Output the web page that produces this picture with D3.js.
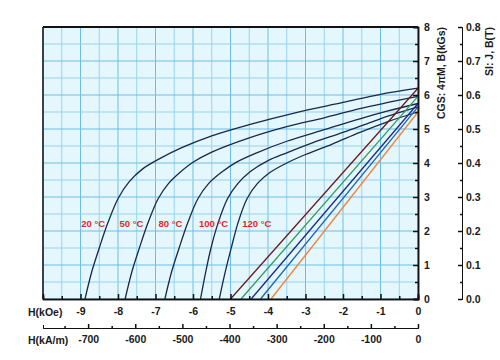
<!DOCTYPE html>
<html lang="en">
<head>
  <meta charset="UTF-8"/>
  <title>Demagnetization curves</title>
  <script src="https://d3js.org/d3.v7.min.js"></script>
  <style>
    body { margin: 0; background: #fff; }
    text { font-family: "Liberation Sans", Arial, sans-serif; }
  </style>
</head>
<body>
<script>

  // temperatures and curve labels
  var temps = ["20 °C", "50 °C", "80 °C", "100 °C", "120 °C"];
  var labelH = [-8.66, -7.64, -6.6, -5.45, -4.3];

  // intrinsic J curves [H (kOe), J (kGs)]
  var j20  = [[-8.88,0],[-8.7,0.8],[-8.5,1.5],[-8.27,2.24],[-8.0,2.95],[-7.7,3.45],[-7.35,3.82],[-6.9,4.12],[-6.3,4.45],[-5.5,4.8],[-4.5,5.13],[-3.3,5.47],[-2.0,5.78],[-1.0,6.02],[0,6.2]];
  var j50  = [[-7.81,0],[-7.63,0.8],[-7.43,1.5],[-7.2,2.24],[-6.93,2.95],[-6.65,3.4],[-6.35,3.72],[-6.0,4.02],[-5.5,4.32],[-4.5,4.74],[-3.5,5.07],[-2.5,5.33],[-1.55,5.6],[-0.8,5.78],[0,5.96]];
  var j80  = [[-6.75,0],[-6.57,0.8],[-6.37,1.5],[-6.14,2.24],[-5.87,2.95],[-5.58,3.4],[-5.25,3.72],[-4.85,4.02],[-4.3,4.3],[-3.5,4.64],[-2.5,4.98],[-1.55,5.3],[-0.8,5.53],[0,5.75]];
  var j100 = [[-5.8,0],[-5.66,0.8],[-5.52,1.5],[-5.33,2.24],[-5.08,2.95],[-4.8,3.4],[-4.47,3.75],[-4.0,4.07],[-3.5,4.3],[-2.8,4.6],[-2.0,4.9],[-1.2,5.22],[-0.6,5.45],[0,5.65]];
  var j120 = [[-5.3,0],[-5.14,0.8],[-4.98,1.5],[-4.8,2.24],[-4.56,2.95],[-4.28,3.4],[-3.95,3.72],[-3.5,4.0],[-3.0,4.25],[-2.3,4.55],[-1.55,4.9],[-0.8,5.22],[0,5.5]];
  var jCurves = [j20, j50, j80, j100, j120];

  // normal B lines: coercivity Hcb (kOe) and remanence Br (kGs)
  var hcb = [-5.0, -4.72, -4.45, -4.2, -3.92];
  var br  = [6.2, 5.96, 5.75, 5.65, 5.5];
  var bColors = ["#6a1c1c", "#3a9a5c", "#1a2c80", "#1f62b4", "#f0843a"];

  // tick labels
  var kOeTicks = [-9, -8, -7, -6, -5, -4, -3, -2, -1, 0];
  var kAmTicks = [-700, -600, -500, -400, -300, -200, -100, 0];
  var cgsTicks = [0, 1, 2, 3, 4, 5, 6, 7, 8];
  var siTicks  = [0, 0.1, 0.2, 0.3, 0.4, 0.5, 0.6, 0.7, 0.8];

  var w = 500, h = 360;
  var pl = 43, pr = 418, pt = 27, pb = 299;
  var kAperkOe = 79.577;

  var svg = d3.select("body").append("svg")
      .attr("width", w)
      .attr("height", h);

  var x = d3.scaleLinear().domain([-10, 0]).range([pl, pr]);
  var x2 = d3.scaleLinear().domain([-10 * kAperkOe, 0]).range([pl, pr]);
  var y = d3.scaleLinear().domain([0, 8]).range([pb, pt]);
  var ySI = d3.scaleLinear().domain([0, 0.8]).range([pb, pt]);

  // background
  svg.append("rect")
     .attr("x", pl).attr("y", pt)
     .attr("width", pr - pl).attr("height", pb - pt)
     .attr("fill", "#e4f7fc");

  // grid
  var grid = svg.append("g");
  d3.range(-10, 0.01, 0.5).forEach(function(v) {
    grid.append("line")
        .attr("x1", x(v)).attr("x2", x(v))
        .attr("y1", pt).attr("y2", pb)
        .attr("stroke", Number.isInteger(v) ? "#6cbde8" : "#98d3f0")
        .attr("stroke-width", 1);
  });
  d3.range(0, 8.01, 0.5).forEach(function(v) {
    grid.append("line")
        .attr("x1", pl).attr("x2", pr)
        .attr("y1", y(v)).attr("y2", y(v))
        .attr("stroke", Number.isInteger(v) ? "#6cbde8" : "#98d3f0")
        .attr("stroke-width", 1);
  });

  // curves
  var line = d3.line()
      .x(function(d) { return x(d[0]); })
      .y(function(d) { return y(d[1]); })
      .curve(d3.curveCatmullRom.alpha(0.5));

  svg.selectAll(".jcurve")
     .data(jCurves)
     .enter()
     .append("path")
     .attr("class", "jcurve")
     .attr("d", line)
     .attr("fill", "none")
     .attr("stroke", "#17294a")
     .attr("stroke-width", 1.3);

  svg.selectAll(".bline")
     .data(hcb)
     .enter()
     .append("path")
     .attr("class", "bline")
     .attr("d", function(d, i) { return d3.line()([[x(d), y(0)], [x(0), y(br[i])]]); })
     .attr("fill", "none")
     .attr("stroke", function(d, i) { return bColors[i]; })
     .attr("stroke-width", 1.3);

  // temperature labels
  svg.selectAll(".tlabel")
     .data(temps)
     .enter()
     .append("text")
     .attr("class", "tlabel")
     .attr("x", function(d, i) { return x(labelH[i]); })
     .attr("y", y(2.24) + 4)
     .attr("text-anchor", "middle")
     .attr("font-size", 9.5)
     .attr("font-weight", "bold")
     .attr("fill", "#e4252a")
     .text(function(d) { return d; });

  // frame
  svg.append("line").attr("x1", pl).attr("x2", pr).attr("y1", pt).attr("y2", pt)
     .attr("stroke", "#111").attr("stroke-width", 2);
  svg.append("line").attr("x1", pl).attr("x2", pl).attr("y1", pt).attr("y2", pb)
     .attr("stroke", "#111").attr("stroke-width", 1.5);

  function styleAxis(g) {
    g.select(".domain").attr("stroke", "#111").attr("stroke-width", 1.5);
    g.selectAll(".tick line").attr("stroke", "#111").attr("stroke-width", 1.5);
    g.selectAll("text").attr("font-size", 10.5).attr("font-weight", "bold").attr("fill", "#1a1a1a")
     .attr("font-family", "Liberation Sans, Arial, sans-serif");
  }

  var fmt = function(d) { return String(d); };

  // bottom kOe axis
  svg.append("g")
     .attr("transform", "translate(0," + pb + ")")
     .call(d3.axisBottom(x).tickValues(d3.range(-9.5, 0, 1)).tickSize(-3).tickFormat(""))
     .call(styleAxis);
  svg.append("g")
     .attr("transform", "translate(0," + pb + ")")
     .call(d3.axisBottom(x).tickValues(kOeTicks).tickSize(-5).tickPadding(9).tickFormat(fmt))
     .call(styleAxis);

  // bottom kA/m axis
  var yk = 328;
  svg.append("g")
     .attr("transform", "translate(0," + yk + ")")
     .call(d3.axisBottom(x2).tickValues(d3.range(-750, 0, 100)).tickSize(-2).tickSizeOuter(-3).tickFormat(""))
     .call(styleAxis)
     .call(function(g) { g.select(".domain").attr("stroke-width", 1); });
  svg.append("g")
     .attr("transform", "translate(0," + yk + ")")
     .call(d3.axisBottom(x2).tickValues(kAmTicks).tickSize(-4).tickSizeOuter(-3).tickPadding(8).tickFormat(fmt))
     .call(styleAxis)
     .call(function(g) { g.select(".domain").attr("stroke-width", 1); });

  // right CGS axis
  svg.append("g")
     .attr("transform", "translate(" + pr + ",0)")
     .call(d3.axisRight(y).tickValues(d3.range(0.5, 8, 1)).tickSize(-3).tickFormat(""))
     .call(styleAxis);
  svg.append("g")
     .attr("transform", "translate(" + pr + ",0)")
     .call(d3.axisRight(y).tickValues(cgsTicks).tickSize(-5).tickPadding(6).tickFormat(fmt))
     .call(styleAxis);

  // right SI axis
  var xSI = 462;
  svg.append("g")
     .attr("transform", "translate(" + xSI + ",0)")
     .call(d3.axisRight(ySI).tickValues(d3.range(0.05, 0.8, 0.1)).tickSize(-2).tickFormat(""))
     .call(styleAxis)
     .call(function(g) { g.select(".domain").attr("stroke-width", 1); });
  svg.append("g")
     .attr("transform", "translate(" + xSI + ",0)")
     .call(d3.axisRight(ySI).tickValues(siTicks).tickSize(-4).tickSizeOuter(-4).tickPadding(4).tickFormat(d3.format(".1f")))
     .call(styleAxis)
     .call(function(g) { g.select(".domain").attr("stroke-width", 1); });

  // axis titles
  svg.append("text")
     .attr("x", 28).attr("y", 316)
     .attr("font-size", 10.5).attr("font-weight", "bold").attr("fill", "#1a1a1a")
     .text("H(kOe)");
  svg.append("text")
     .attr("x", 28).attr("y", 344)
     .attr("font-size", 10.5).attr("font-weight", "bold").attr("fill", "#1a1a1a")
     .text("H(kA/m)");
  svg.append("text")
     .attr("transform", "translate(445," + pt + ") rotate(-90)")
     .attr("text-anchor", "end")
     .attr("font-size", 10.5).attr("font-weight", "bold").attr("fill", "#1a1a1a")
     .text("CGS: 4πM, B(kGs)");
  svg.append("text")
     .attr("transform", "translate(493," + pt + ") rotate(-90)")
     .attr("text-anchor", "end")
     .attr("font-size", 10.5).attr("font-weight", "bold").attr("fill", "#1a1a1a")
     .text("SI: J, B(T)");

</script>
</body>
</html>
